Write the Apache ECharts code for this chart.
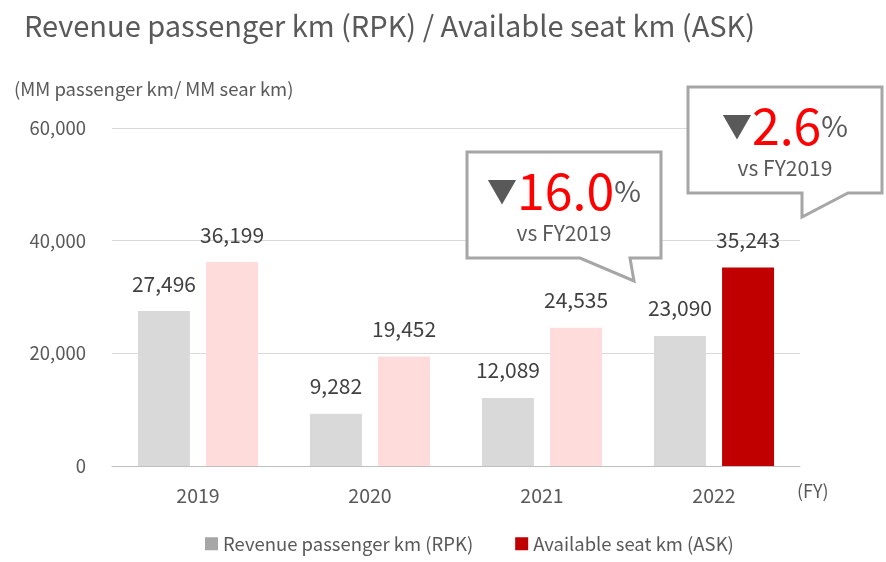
<!DOCTYPE html>
<html>
<head>
<meta charset="utf-8">
<script src="https://cdn.jsdelivr.net/npm/echarts@6/dist/echarts.min.js"></script>
<style>
html, body { margin: 0; padding: 0; background: #fff; }
#main { width: 886px; height: 562px; }
</style>
</head>
<body>
<div id="main"></div>
<script>
var years = ['2019', '2020', '2021', '2022'];
var rpkValues = [27496, 9282, 12089, 23090];
var askValues = [36199, 19452, 24535, 35243];
var askColors = ['#ffdcdc', '#ffdcdc', '#ffdcdc', '#c00000'];
var yTicks = [0, 20000, 40000, 60000];

var textColor = '#595959';
var fontName = '"Noto Sans CJK JP", "Noto Sans", sans-serif';

function callout(x, y, w, h, tail, cx, big) {
    var items = [];
    items.push({
        type: 'polygon',
        shape: { points: [[x, y], [x + w, y], [x + w, y + h]].concat(tail).concat([[x, y + h]]) },
        style: { fill: '#fff', stroke: '#a6a6a6', lineWidth: 3 },
        z: 10
    });
    items.push({
        type: 'text',
        x: cx, y: y + 64,
        style: {
            text: '{tri|▼}{num|' + big + '}{pct|%}',
            align: 'center', verticalAlign: 'bottom',
            rich: {
                tri: { fontSize: 30, fill: '#595959', fontFamily: fontName },
                num: { fontSize: 50, fill: '#ff0000', fontFamily: fontName },
                pct: { fontSize: 29, fill: '#595959', fontFamily: fontName }
            }
        },
        z: 11
    });
    items.push({
        type: 'text',
        x: cx, y: y + 81,
        style: {
            text: 'vs FY2019', align: 'center', verticalAlign: 'middle',
            fontSize: 21, fill: '#595959', fontFamily: fontName
        },
        z: 11
    });
    return items;
}

var myChart = echarts.init(document.getElementById('main'));

var option = {
    backgroundColor: '#fff',
    animation: false,
    textStyle: { fontFamily: fontName },
    title: {
        text: 'Revenue passenger km (RPK) / Available seat km (ASK)',
        left: 19, top: 6,
        textStyle: { fontSize: 29, fontWeight: 'normal', color: textColor, fontFamily: fontName }
    },
    grid: { left: 112, right: 86, top: 128, bottom: 96 },
    legend: {
        bottom: 4, left: 200,
        itemWidth: 13, itemHeight: 13, itemGap: 42,
        icon: 'rect',
        textStyle: { fontSize: 18.5, color: textColor, fontFamily: fontName },
        data: [
            { name: 'Revenue passenger km (RPK)', itemStyle: { color: '#a6a6a6' } },
            { name: 'Available seat km (ASK)', itemStyle: { color: '#c00000' } }
        ]
    },
    xAxis: {
        type: 'category',
        data: years,
        name: '(FY)',
        nameLocation: 'end',
        nameGap: -3,
        nameTextStyle: { fontSize: 18, color: textColor, verticalAlign: 'top', padding: [16, 0, 0, 0] },
        axisLine: { lineStyle: { color: '#bfbfbf' } },
        axisTick: { show: false },
        axisLabel: { fontSize: 19.5, color: textColor, margin: 20 }
    },
    yAxis: {
        type: 'value',
        min: yTicks[0], max: yTicks[yTicks.length - 1], interval: 20000,
        name: '(MM passenger km/ MM sear km)',
        nameLocation: 'end',
        nameGap: 30,
        nameTextStyle: { fontSize: 18.5, color: textColor, align: 'left', padding: [0, 0, 0, -98] },
        axisLine: { show: false },
        axisTick: { show: false },
        axisLabel: {
            fontSize: 18.5, color: textColor, margin: 26,
            formatter: function (v) { return echarts.format.addCommas(v); }
        },
        splitLine: { lineStyle: { color: '#d9d9d9' } }
    },
    series: [
        {
            name: 'Revenue passenger km (RPK)',
            type: 'bar',
            barWidth: 52,
            barGap: '31%',
            data: rpkValues,
            itemStyle: { color: '#d9d9d9' },
            label: {
                show: true, position: 'top', distance: 17,
                fontSize: 21, color: '#404040',
                formatter: function (p) { return echarts.format.addCommas(p.value); }
            }
        },
        {
            name: 'Available seat km (ASK)',
            type: 'bar',
            barWidth: 52,
            data: askValues.map(function (v, i) {
                return { value: v, itemStyle: { color: askColors[i] } };
            }),
            itemStyle: { color: '#c00000' },
            label: {
                show: true, position: 'top', distance: 17,
                fontSize: 21, color: '#404040',
                formatter: function (p) { return echarts.format.addCommas(p.value); }
            }
        }
    ],
    graphic: callout(467, 152, 194, 106, [[630, 258], [634, 281], [580, 258]], 564, '16.0')
        .concat(callout(688, 87, 194, 106, [[848, 193], [802, 217], [802, 193]], 785, '2.6'))
};

myChart.setOption(option);
</script>
</body>
</html>
